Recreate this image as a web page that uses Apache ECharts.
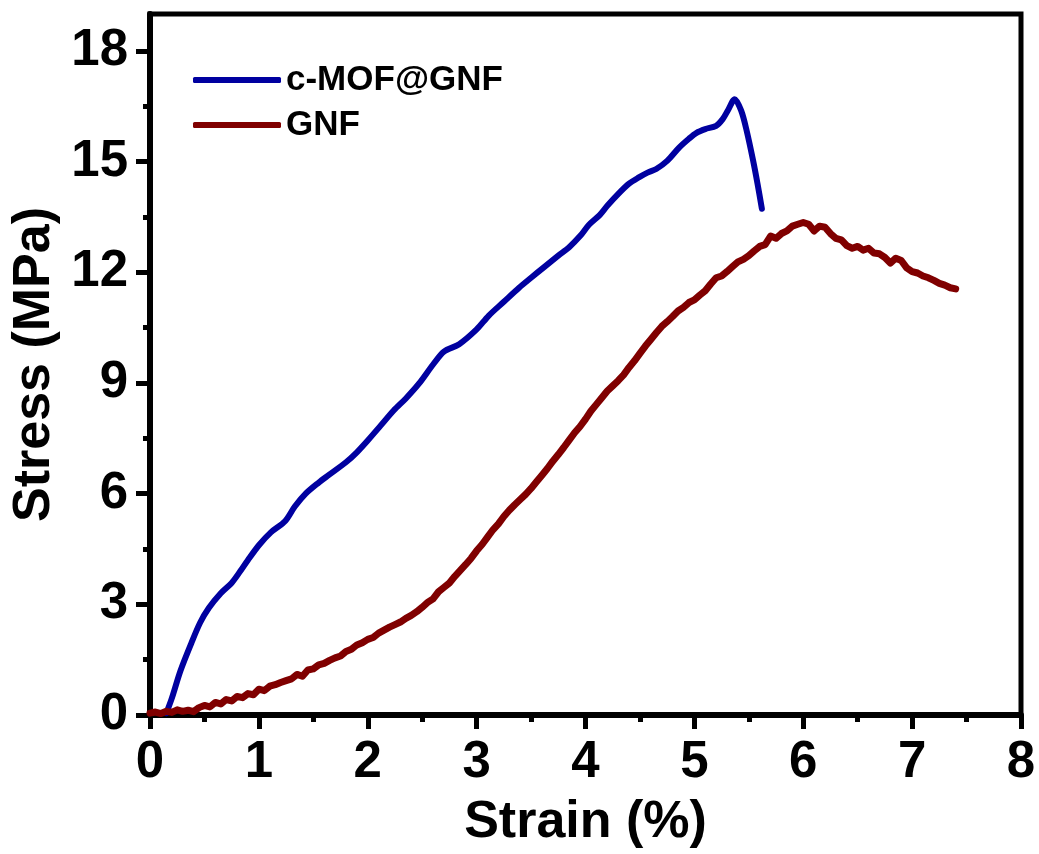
<!DOCTYPE html>
<html>
<head>
<meta charset="utf-8">
<script src="https://cdn.jsdelivr.net/npm/echarts@6/dist/echarts.min.js"></script>
<style>
html,body{margin:0;padding:0;background:#fff;}
#chart{width:1039px;height:854px;}
</style>
</head>
<body>
<div id="chart"></div>
<script>
const seriesNames = ['c-MOF@GNF', 'GNF'];
const xTicks = [0, 1, 2, 3, 4, 5, 6, 7, 8];
const yTicks = [0, 3, 6, 9, 12, 15, 18];
const yMinorTicks = [1.5, 4.5, 7.5, 10.5, 13.5, 16.5];

const mofStrain = [0.15,0.20,0.28,0.38,0.46,0.54,0.65,0.75,0.83,0.90,1.00,1.11,1.24,1.33,1.43,1.55,1.64,1.80,1.90,2.00,2.12,2.24,2.35,2.47,2.60,2.70,2.84,3.00,3.11,3.25,3.39,3.50,3.62,3.75,3.85,3.95,4.03,4.13,4.20,4.31,4.40,4.49,4.57,4.65,4.75,4.86,4.95,5.02,5.10,5.20,5.26,5.31,5.37,5.43,5.48,5.54,5.58,5.62];
const mofStress = [0.05,0.45,1.20,1.95,2.50,2.90,3.30,3.58,3.90,4.20,4.60,4.95,5.25,5.65,6.00,6.30,6.50,6.85,7.12,7.44,7.85,8.26,8.58,8.98,9.50,9.85,10.05,10.45,10.82,11.20,11.58,11.85,12.14,12.45,12.68,12.98,13.28,13.55,13.80,14.15,14.40,14.57,14.70,14.80,15.02,15.38,15.62,15.78,15.88,15.97,16.15,16.40,16.69,16.38,15.84,15.02,14.40,13.72];

const gnfStrain = [0.00,0.05,0.10,0.15,0.20,0.25,0.30,0.35,0.40,0.45,0.50,0.55,0.60,0.65,0.70,0.75,0.80,0.85,0.90,0.95,1.00,1.05,1.10,1.15,1.20,1.25,1.30,1.35,1.40,1.45,1.50,1.55,1.60,1.65,1.70,1.75,1.80,1.85,1.90,1.95,2.00,2.05,2.10,2.15,2.20,2.25,2.30,2.35,2.40,2.45,2.50,2.55,2.60,2.65,2.70,2.75,2.80,2.85,2.90,2.95,3.00,3.05,3.10,3.15,3.20,3.25,3.30,3.35,3.40,3.45,3.50,3.55,3.60,3.65,3.70,3.75,3.80,3.85,3.90,3.95,4.00,4.05,4.10,4.15,4.20,4.25,4.30,4.35,4.40,4.45,4.50,4.55,4.60,4.65,4.70,4.75,4.80,4.85,4.90,4.95,5.00,5.05,5.10,5.15,5.20,5.25,5.30,5.35,5.40,5.45,5.50,5.55,5.60,5.65,5.70,5.75,5.80,5.85,5.90,5.95,6.00,6.05,6.10,6.15,6.20,6.25,6.30,6.35,6.40,6.45,6.50,6.55,6.60,6.65,6.70,6.75,6.80,6.85,6.90,6.95,7.00,7.05,7.10,7.15,7.20,7.25,7.30,7.35,7.40];
const gnfStress = [0.05,0.08,0.04,0.10,0.07,0.14,0.10,0.13,0.09,0.20,0.26,0.22,0.34,0.30,0.42,0.38,0.50,0.47,0.58,0.55,0.70,0.66,0.78,0.82,0.88,0.93,0.98,1.10,1.05,1.22,1.25,1.36,1.40,1.48,1.55,1.60,1.72,1.78,1.90,1.96,2.05,2.10,2.22,2.30,2.38,2.45,2.52,2.62,2.70,2.80,2.92,3.05,3.15,3.34,3.46,3.58,3.76,3.92,4.08,4.25,4.45,4.62,4.82,5.02,5.18,5.38,5.55,5.70,5.84,5.98,6.14,6.32,6.50,6.68,6.88,7.06,7.25,7.45,7.65,7.82,8.02,8.24,8.42,8.60,8.78,8.92,9.06,9.22,9.42,9.60,9.80,10.00,10.18,10.36,10.53,10.66,10.80,10.95,11.05,11.18,11.25,11.38,11.50,11.68,11.85,11.90,12.02,12.15,12.28,12.35,12.45,12.58,12.70,12.75,12.98,12.92,13.05,13.12,13.25,13.30,13.35,13.30,13.12,13.25,13.22,13.05,12.92,12.88,12.72,12.65,12.70,12.60,12.65,12.52,12.50,12.40,12.25,12.38,12.32,12.12,12.02,11.98,11.90,11.85,11.78,11.70,11.65,11.58,11.55];

const zip = (a, b) => a.map((v, i) => [v, b[i]]);
const FONT = "'Liberation Sans', Arial, sans-serif";
const BLUE = '#0000A0';
const RED = '#800000';

const chart = echarts.init(document.getElementById('chart'), null, {renderer: 'canvas'});
chart.setOption({
  animation: false,
  backgroundColor: '#fff',
  grid: {left: 150, right: 18, top: 14, bottom: 138, show: true, borderColor: '#000', borderWidth: 5, backgroundColor: 'transparent'},
  legend: {
    data: seriesNames,
    orient: 'vertical',
    left: 188,
    top: 55,
    itemWidth: 88,
    itemHeight: 6,
    itemGap: 5,
    icon: 'roundRect',
    textStyle: {fontFamily: FONT, fontWeight: 'bold', fontSize: 35, color: '#000', lineHeight: 40}
  },
  xAxis: {
    type: 'value', min: xTicks[0], max: xTicks[xTicks.length - 1], interval: 1,
    name: 'Strain (%)', nameLocation: 'middle', nameGap: 82,
    nameTextStyle: {fontFamily: FONT, fontWeight: 'bold', fontSize: 52, color: '#000'},
    axisLine: {show: true, onZero: false, lineStyle: {color: '#000', width: 6}},
    axisTick: {show: true, length: 14, lineStyle: {color: '#000', width: 5}},
    minorTick: {show: true, splitNumber: 2, length: 7, lineStyle: {color: '#000', width: 5}},
    splitLine: {show: false},
    axisLabel: {fontFamily: FONT, fontWeight: 'bold', fontSize: 51, color: '#000', margin: 22}
  },
  yAxis: [{
    type: 'value', min: 0, max: 19,
    name: 'Stress (MPa)', nameLocation: 'middle', nameGap: 86,
    nameTextStyle: {fontFamily: FONT, fontWeight: 'bold', fontSize: 52, color: '#000'},
    axisLine: {show: true, onZero: false, lineStyle: {color: '#000', width: 6}},
    axisTick: {show: true, length: 14, customValues: yTicks, lineStyle: {color: '#000', width: 5}},
    splitLine: {show: false},
    axisLabel: {fontFamily: FONT, fontWeight: 'bold', fontSize: 51, color: '#000', margin: 22, customValues: yTicks}
  }, {
    type: 'value', min: 0, max: 19, position: 'left', offset: 0,
    axisLine: {show: false},
    axisTick: {show: true, length: 7, customValues: yMinorTicks, lineStyle: {color: '#000', width: 5}},
    axisLabel: {show: false},
    splitLine: {show: false}
  }],
  series: [{
    name: seriesNames[0], type: 'line', data: zip(mofStrain, mofStress),
    showSymbol: false, symbol: 'none', smooth: 0.3,
    lineStyle: {color: BLUE, width: 6, cap: 'round', join: 'round'},
    itemStyle: {color: BLUE}
  }, {
    name: seriesNames[1], type: 'line', data: zip(gnfStrain, gnfStress),
    showSymbol: false, symbol: 'none',
    lineStyle: {color: RED, width: 7, cap: 'round', join: 'round'},
    itemStyle: {color: RED}
  }]
});
</script>
</body>
</html>
